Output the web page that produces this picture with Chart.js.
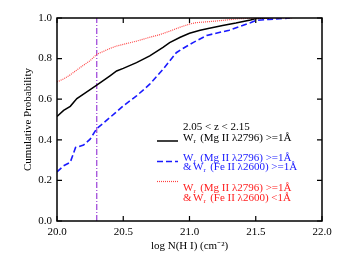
<html lang="en">
<head>
<meta charset="UTF-8" />
<title>Cumulative probability</title>
<style>
  html, body { margin: 0; padding: 0; background: #fff; }
  #wrap { width: 339px; height: 259px; }
</style>
</head>
<body>
<div id="wrap"><canvas id="myChart" width="339" height="259"></canvas></div>
<script src="https://cdn.jsdelivr.net/npm/chart.js@4.4.0/dist/chart.umd.min.js"></script>
<script>
// black: W(MgII 2796) >= 1A
var blackN = [20.0, 20.05, 20.1, 20.15, 20.2, 20.3, 20.4, 20.45, 20.5, 20.6, 20.7, 20.8, 20.85, 20.93, 21.0, 21.08, 21.15, 21.25, 21.35, 21.46, 21.5, 21.6];
var blackP = [0.515, 0.545, 0.565, 0.603, 0.625, 0.669, 0.715, 0.739, 0.752, 0.78, 0.813, 0.855, 0.879, 0.905, 0.925, 0.94, 0.95, 0.963, 0.975, 0.99, 0.997, 1.0];
// blue: MgII >= 1A & FeII >= 1A
var blueN = [20.0, 20.05, 20.1, 20.14, 20.2, 20.25, 20.3, 20.4, 20.5, 20.6, 20.7, 20.8, 20.9, 20.95, 21.03, 21.13, 21.3, 21.46, 21.5, 21.6, 21.76];
var blueP = [0.242, 0.272, 0.289, 0.362, 0.374, 0.403, 0.455, 0.51, 0.567, 0.616, 0.674, 0.747, 0.829, 0.85, 0.88, 0.914, 0.94, 0.977, 0.988, 0.993, 1.0];
// red: MgII >= 1A & FeII < 1A
var redN = [20.0, 20.05, 20.1, 20.175, 20.25, 20.3, 20.4, 20.45, 20.5, 20.6, 20.7, 20.78, 20.85, 20.93, 21.0, 21.05, 21.2, 21.38, 21.6, 21.78];
var redP = [0.685, 0.7, 0.72, 0.756, 0.79, 0.821, 0.85, 0.862, 0.87, 0.886, 0.905, 0.919, 0.935, 0.955, 0.97, 0.977, 0.985, 0.997, 1.0, 1.0];
var cutN = [20.3, 20.3];
var cutP = [0, 1];

var xTicks = [20.0, 20.5, 21.0, 21.5, 22.0];
var yTicks = [0.0, 0.2, 0.4, 0.6, 0.8, 1.0];

function pts(xs, ys) {
  return xs.map(function (x, i) { return { x: x, y: ys[i] }; });
}

var FONT = "Liberation Serif";

// frame + inward ticks on all four sides
var framePlugin = {
  id: 'frame',
  afterDraw: function (chart) {
    var c = chart.ctx, a = chart.chartArea;
    var xs = chart.scales.x, ys = chart.scales.y;
    c.save();
    c.strokeStyle = '#000';
    c.lineWidth = 1.5;
    c.strokeRect(a.left, a.top, a.right - a.left, a.bottom - a.top);
    c.lineWidth = 1.2;
    c.beginPath();
    xTicks.forEach(function (v) {
      var px = xs.getPixelForValue(v);
      c.moveTo(px, a.bottom); c.lineTo(px, a.bottom - 5);
      c.moveTo(px, a.top); c.lineTo(px, a.top + 5);
    });
    yTicks.forEach(function (v) {
      var py = ys.getPixelForValue(v);
      c.moveTo(a.left, py); c.lineTo(a.left + 5, py);
      c.moveTo(a.right, py); c.lineTo(a.right - 5, py);
    });
    c.stroke();

    // legend block
    c.font = '11px "' + FONT + '"';
    c.textBaseline = 'middle';
    c.fillStyle = '#000';
    c.fillText('2.05 < z < 2.15', 183, 127);

    function wr(x, y, rest, color) {
      c.fillStyle = color;
      c.font = '11px "' + FONT + '"';
      c.fillText('W', x, y);
      var w = c.measureText('W').width;
      c.font = '7px "' + FONT + '"';
      c.fillText('r', x + w, y + 3);
      c.font = '11px "' + FONT + '"';
      c.fillText(rest, x + w + 4, y);
    }
    function sample(y, color, dash, width) {
      c.strokeStyle = color;
      c.lineWidth = width;
      c.setLineDash(dash);
      c.beginPath();
      c.moveTo(157, y); c.lineTo(178, y);
      c.stroke();
      c.setLineDash([]);
    }
    sample(141, '#000', [], 1.5);
    wr(183, 138, ' (Mg II \u03bb2796) >=1\u00c5', '#000');
    sample(161.5, '#1a1aff', [6, 3], 1.5);
    wr(183, 158, ' (Mg II \u03bb2796) >=1\u00c5', '#1a1aff');
    c.fillStyle = '#1a1aff';
    c.fillText('&', 183, 167.5);
    wr(193, 167.5, ' (Fe II \u03bb2600) >=1\u00c5', '#1a1aff');
    sample(181.5, '#ff4040', [1, 1], 1.2);
    wr(183, 188, ' (Mg II \u03bb2796) >=1\u00c5', '#ff2020');
    c.fillStyle = '#ff2020';
    c.fillText('&', 183, 198);
    wr(193, 198, ' (Fe II \u03bb2600) <1\u00c5', '#ff2020');
    c.restore();
  }
};

var ctx = document.getElementById('myChart').getContext('2d');
var myChart = new Chart(ctx, {
  type: 'line',
  data: {
    datasets: [
      { data: pts(redN, redP), borderColor: '#ff4a4a', borderWidth: 1.2, borderDash: [1, 1], pointRadius: 0, tension: 0 },
      { data: pts(blackN, blackP), borderColor: '#000', borderWidth: 1.5, pointRadius: 0, tension: 0 },
      { data: pts(blueN, blueP), borderColor: '#1a1aff', borderWidth: 1.6, borderDash: [6, 3], pointRadius: 0, tension: 0 },
      { data: pts(cutN, cutP), borderColor: '#9a3fd8', borderWidth: 1.2, borderDash: [6, 2, 1, 2], pointRadius: 0, tension: 0 }
    ]
  },
  options: {
    responsive: false,
    animation: false,
    layout: { padding: { top: 18, right: 17, left: 22, bottom: 6 } },
    plugins: { legend: { display: false }, tooltip: { enabled: false } },
    scales: {
      x: {
        type: 'linear', min: 20, max: 22,
        afterBuildTicks: function (s) { s.ticks = xTicks.map(function (v) { return { value: v }; }); },
        grid: { display: false, drawTicks: false },
        border: { display: false },
        ticks: {
          color: '#000', padding: 5, maxRotation: 0,
          font: { family: FONT, size: 11 },
          callback: function (v) { return Number(v).toFixed(1); }
        },
        title: { display: true, text: 'log N(H I) (cm\u207b\u00b2)', color: '#000', padding: { top: 0, bottom: 0 }, font: { family: FONT, size: 11 } },
        afterFit: function (s) { s.height = 32; }
      },
      y: {
        min: 0, max: 1,
        afterBuildTicks: function (s) { s.ticks = yTicks.map(function (v) { return { value: v }; }); },
        grid: { display: false, drawTicks: false },
        border: { display: false },
        ticks: {
          color: '#000', padding: 5,
          font: { family: FONT, size: 11 },
          callback: function (v) { return Number(v).toFixed(1); }
        },
        title: { display: true, text: 'Cumulative Probability', color: '#000', padding: { top: 0, bottom: 0 }, font: { family: FONT, size: 11 } },
        afterFit: function (s) { s.width = 35; }
      }
    }
  },
  plugins: [framePlugin]
});
</script>
</body>
</html>
